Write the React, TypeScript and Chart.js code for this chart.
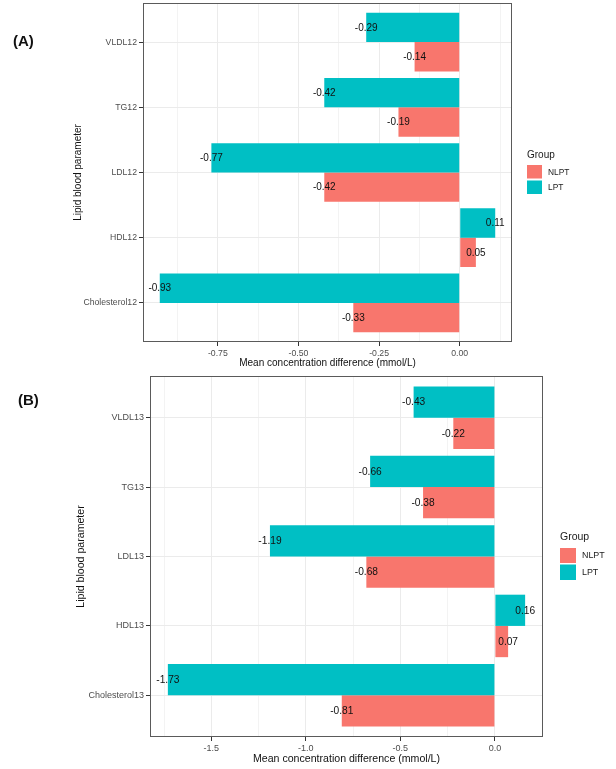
import React, { useEffect, useRef } from "react";
import { Chart, registerables } from "chart.js";

Chart.register(...registerables);

// ---------------- data ----------------
const categoriesA = ["VLDL12", "TG12", "LDL12", "HDL12", "Cholesterol12"];
const lptA = [-0.29, -0.42, -0.77, 0.11, -0.93];
const nlptA = [-0.14, -0.19, -0.42, 0.05, -0.33];
const xTicksA = [-0.75, -0.5, -0.25, 0];
const xTickLabelsA = ["-0.75", "-0.50", "-0.25", "0.00"];

const categoriesB = ["VLDL13", "TG13", "LDL13", "HDL13", "Cholesterol13"];
const lptB = [-0.43, -0.66, -1.19, 0.16, -1.73];
const nlptB = [-0.22, -0.38, -0.68, 0.07, -0.81];
const xTicksB = [-1.5, -1.0, -0.5, 0];
const xTickLabelsB = ["-1.5", "-1.0", "-0.5", "0.0"];

const legendTitle = "Group";
const legendLabels = ["NLPT", "LPT"];
const xTitle = "Mean concentration difference (mmol/L)";
const yTitle = "Lipid blood parameter";

// ---------------- styles ----------------
const W = 616;
const H = 769;
const FONT = "'Liberation Sans', Arial, sans-serif";
const COL_NLPT = "#F8766D";
const COL_LPT = "#00BFC4";
const GRID_MAJOR = "#EBEBEB";
const GRID_MINOR = "#F3F3F3";
const TICK_TEXT = "#4D4D4D";
const BORDER = "#5a5a5a";

type PanelCfg = {
  cats: string[];
  lpt: number[];
  nlpt: number[];
  majors: number[];
  majorLabels: string[];
  area: { left: number; top: number; right: number; bottom: number };
  axisBottom: number;
  tickFont: number;
  titleFont: number;
  yTitleX: number;
  xTitleY: number;
  labelFont: number;
  legend: {
    x: number;
    titleY: number;
    titleFont: number;
    keyW: number;
    keys: [number, number][];
    labelX: number;
    labelYs: number[];
    labelFont: number;
  };
};

const panelA: PanelCfg = {
  cats: categoriesA,
  lpt: lptA,
  nlpt: nlptA,
  majors: xTicksA,
  majorLabels: xTickLabelsA,
  area: { left: 143, top: 3, right: 512, bottom: 342 },
  axisBottom: 372,
  tickFont: 8.7,
  titleFont: 10,
  yTitleX: 78,
  xTitleY: 363,
  labelFont: 10,
  legend: {
    x: 527,
    titleY: 155,
    titleFont: 10,
    keyW: 15,
    keys: [
      [165, 178.5],
      [180.5, 194],
    ],
    labelX: 548,
    labelYs: [172.5, 188],
    labelFont: 8.4,
  },
};

const panelB: PanelCfg = {
  cats: categoriesB,
  lpt: lptB,
  nlpt: nlptB,
  majors: xTicksB,
  majorLabels: xTickLabelsB,
  area: { left: 150, top: 376, right: 543, bottom: 737 },
  axisBottom: 767,
  tickFont: 9,
  titleFont: 10.6,
  yTitleX: 81,
  xTitleY: 759,
  labelFont: 10.2,
  legend: {
    x: 560,
    titleY: 537.5,
    titleFont: 10.5,
    keyW: 16,
    keys: [
      [548, 563],
      [564.5, 580],
    ],
    labelX: 582,
    labelYs: [556, 572.5],
    labelFont: 8.9,
  },
};

function Panel({ cfg }: { cfg: PanelCfg }) {
  const ref = useRef<HTMLCanvasElement | null>(null);

  useEffect(() => {
    const canvas = ref.current;
    if (!canvas) return;
    const { area } = cfg;

    const all = [...cfg.lpt, ...cfg.nlpt, 0];
    const lo = Math.min(...all);
    const hi = Math.max(...all);
    const pad = (hi - lo) * 0.05;
    const xMin = lo - pad;
    const xMax = hi + pad;

    const step = cfg.majors[1] - cfg.majors[0];
    const tickVals: number[] = [];
    for (let k = -3; k <= (cfg.majors.length + 3) * 2; k++) {
      const v = cfg.majors[0] + (k * step) / 2;
      if (v >= xMin && v <= xMax) tickVals.push(v);
    }
    const isMajor = (v: number) =>
      cfg.majors.some((m) => Math.abs(m - v) < 1e-9);
    const majorLabel = (v: number) => {
      const idx = cfg.majors.findIndex((m) => Math.abs(m - v) < 1e-9);
      return idx >= 0 ? cfg.majorLabels[idx] : "";
    };

    const xTitleLH = cfg.titleFont * 1.2;
    const yTitleLH = cfg.titleFont * 1.2;

    const labelsPlugin = {
      id: "valueLabels",
      afterDatasetsDraw(chart: any) {
        const ctx = chart.ctx;
        ctx.save();
        ctx.font = `${cfg.labelFont}px ${FONT}`;
        ctx.fillStyle = "#111111";
        ctx.textAlign = "center";
        ctx.textBaseline = "middle";
        chart.data.datasets.forEach((ds: any, di: number) => {
          const meta = chart.getDatasetMeta(di);
          meta.data.forEach((el: any, i: number) => {
            const v = ds.data[i].x as number;
            ctx.fillText(v.toFixed(2), el.x, el.y + 0.5);
          });
        });
        ctx.restore();
      },
    };

    const borderPlugin = {
      id: "panelBorder",
      afterDatasetsDraw(chart: any) {
        const ctx = chart.ctx;
        const a = chart.chartArea;
        ctx.save();
        ctx.strokeStyle = BORDER;
        ctx.lineWidth = 1;
        ctx.strokeRect(
          Math.round(a.left) + 0.5,
          Math.round(a.top) + 0.5,
          Math.round(a.right - a.left) - 1,
          Math.round(a.bottom - a.top) - 1
        );
        ctx.restore();
      },
    };

    const legendPlugin = {
      id: "ggLegend",
      afterDraw(chart: any) {
        const ctx = chart.ctx;
        const L = cfg.legend;
        ctx.save();
        ctx.textBaseline = "middle";
        ctx.textAlign = "left";
        ctx.fillStyle = "#1a1a1a";
        ctx.font = `${L.titleFont}px ${FONT}`;
        ctx.fillText(legendTitle, L.x, L.titleY);
        const cols = [COL_NLPT, COL_LPT];
        legendLabels.forEach((lab, i) => {
          const [t, b] = L.keys[i];
          ctx.fillStyle = cols[i];
          ctx.fillRect(L.x, t, L.keyW, b - t);
          ctx.fillStyle = "#1a1a1a";
          ctx.font = `${L.labelFont}px ${FONT}`;
          ctx.fillText(lab, L.labelX, L.labelYs[i]);
        });
        ctx.restore();
      },
    };

    const chart = new Chart(canvas, {
      type: "bar",
      data: {
        datasets: [
          {
            label: "LPT",
            data: cfg.cats.map((c, i) => ({ x: cfg.lpt[i], y: i + 1 })),
            backgroundColor: COL_LPT,
            borderWidth: 0,
            categoryPercentage: 0.9,
            barPercentage: 1.0,
          },
          {
            label: "NLPT",
            data: cfg.cats.map((c, i) => ({ x: cfg.nlpt[i], y: i + 1 })),
            backgroundColor: COL_NLPT,
            borderWidth: 0,
            categoryPercentage: 0.9,
            barPercentage: 1.0,
          },
        ] as any,
      },
      options: {
        indexAxis: "y",
        responsive: false,
        maintainAspectRatio: false,
        animation: false,
        events: [],
        layout: {
          padding: {
            left: 0,
            top: area.top,
            right: W - area.right,
            bottom: H - cfg.axisBottom,
          },
        },
        plugins: {
          legend: { display: false },
          tooltip: { enabled: false },
          title: { display: false },
        },
        scales: {
          x: {
            type: "linear",
            position: "bottom",
            min: xMin,
            max: xMax,
            offset: false,
            beginAtZero: false,
            afterBuildTicks: (s: any) => {
              s.ticks = tickVals.map((v) => ({ value: v }));
            },
            afterFit: (s: any) => {
              s.height = cfg.axisBottom - area.bottom;
              s.paddingLeft = 0;
              s.paddingRight = 0;
            },
            ticks: {
              autoSkip: false,
              maxRotation: 0,
              minRotation: 0,
              padding: 2,
              color: TICK_TEXT,
              font: { family: FONT, size: cfg.tickFont },
              callback: (v: any) => majorLabel(Number(v)),
            },
            grid: {
              offset: false,
              drawTicks: true,
              tickLength: 4,
              tickWidth: 1,
              color: (ctx: any) =>
                isMajor(ctx.tick?.value) ? GRID_MAJOR : GRID_MINOR,
              lineWidth: 1,
              tickColor: (ctx: any) =>
                isMajor(ctx.tick?.value) ? "#333333" : "rgba(0,0,0,0)",
            },
            border: { display: false },
            title: {
              display: true,
              text: xTitle,
              color: "#111111",
              font: { family: FONT, size: cfg.titleFont },
              padding: {
                top: 0,
                bottom: cfg.axisBottom - cfg.xTitleY - xTitleLH / 2,
              },
            },
          },
          y: {
            type: "linear",
            position: "left",
            reverse: true,
            offset: false,
            min: 0.4,
            max: cfg.cats.length + 0.6,
            afterBuildTicks: (s: any) => {
              s.ticks = cfg.cats.map((c, i) => ({ value: i + 1 }));
            },
            afterFit: (s: any) => {
              s.width = area.left;
              s.paddingTop = 0;
              s.paddingBottom = 0;
            },
            ticks: {
              autoSkip: false,
              padding: 2,
              color: TICK_TEXT,
              font: { family: FONT, size: cfg.tickFont },
              callback: (v: any) => cfg.cats[Math.round(Number(v)) - 1] ?? "",
            },
            grid: {
              offset: false,
              drawTicks: true,
              tickLength: 4,
              tickWidth: 1,
              color: GRID_MAJOR,
              lineWidth: 1,
              tickColor: "#333333",
            },
            border: { display: false },
            title: {
              display: true,
              text: yTitle,
              color: "#111111",
              font: { family: FONT, size: cfg.titleFont },
              padding: { top: cfg.yTitleX - yTitleLH / 2, bottom: 0 },
            },
          },
        },
      } as any,
      plugins: [labelsPlugin, borderPlugin, legendPlugin],
    });

    return () => {
      chart.destroy();
    };
  }, [cfg]);

  return (
    <canvas
      ref={ref}
      width={W}
      height={H}
      style={{
        position: "absolute",
        left: 0,
        top: 0,
        width: W,
        height: H,
        pointerEvents: "none",
      }}
    />
  );
}

const panelTagStyle: React.CSSProperties = {
  position: "absolute",
  fontFamily: FONT,
  fontWeight: "bold",
  fontSize: 15,
  lineHeight: "15px",
  color: "#111111",
};

export default function App() {
  return (
    <div
      style={{
        position: "fixed",
        left: 0,
        top: 0,
        width: W,
        height: H,
        background: "#ffffff",
        overflow: "hidden",
      }}
    >
      <Panel cfg={panelA} />
      <Panel cfg={panelB} />
      <div style={{ ...panelTagStyle, left: 13, top: 33 }}>(A)</div>
      <div style={{ ...panelTagStyle, left: 18, top: 392 }}>(B)</div>
    </div>
  );
}
